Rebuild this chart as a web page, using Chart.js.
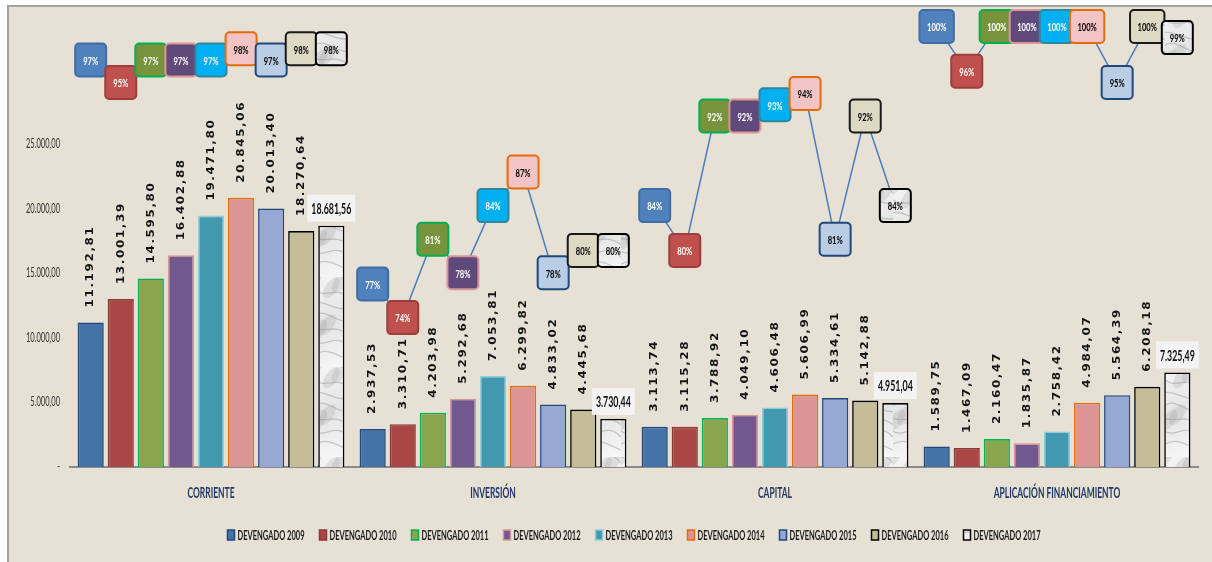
<!DOCTYPE html>
<html><head><meta charset="utf-8">
<script src="https://cdn.jsdelivr.net/npm/chart.js@4.4.1/dist/chart.umd.min.js"></script>
<style>
html,body{margin:0;padding:0;background:#ffffff;width:1212px;height:562px;overflow:hidden;}
#wrap{position:absolute;left:7px;top:5px;width:1205px;height:557px;box-sizing:border-box;border-left:2px solid #a3a3a3;border-top:2px solid #a3a3a3;background:#E6E0D5;}
canvas{display:block;}
</style></head><body>
<div id="wrap"><canvas id="c" width="1203" height="555"></canvas></div>
<script>
// ---- data ----
const categories = ['CORRIENTE', 'INVERSIÓN', 'CAPITAL', 'APLICACIÓN FINANCIAMIENTO'];
const seriesNames = ['DEVENGADO 2009','DEVENGADO 2010','DEVENGADO 2011','DEVENGADO 2012','DEVENGADO 2013','DEVENGADO 2014','DEVENGADO 2015','DEVENGADO 2016','DEVENGADO 2017'];
const dev2009 = [11192.81, 2937.53, 3113.74, 1589.75];
const dev2010 = [13001.39, 3310.71, 3115.28, 1467.09];
const dev2011 = [14595.80, 4203.98, 3788.92, 2160.47];
const dev2012 = [16402.88, 5292.68, 4049.10, 1835.87];
const dev2013 = [19471.80, 7053.81, 4606.48, 2758.42];
const dev2014 = [20845.06, 6299.82, 5606.99, 4984.07];
const dev2015 = [20013.40, 4833.02, 5334.61, 5564.39];
const dev2016 = [18270.64, 4445.68, 5142.88, 6208.18];
const dev2017 = [18681.56, 3730.44, 4951.04, 7325.49];
// execution percentages per category (2009..2017)
const pctCorriente  = [97, 95, 97, 97, 97, 98, 97, 98, 98];
const pctInversion  = [77, 74, 81, 78, 84, 87, 78, 80, 80];
const pctCapital    = [84, 80, 92, 92, 93, 94, 81, 92, 84];
const pctAplicacion = [100, 96, 100, 100, 100, 100, 95, 100, 99];
const yTickValues = [0, 5000, 10000, 15000, 20000, 25000];

// ---- styles ----
const FONT = "Lato, 'Open Sans', sans-serif";
const CAT_PCT = 0.96, BAR_PCT = 0.87;

function marble(w, h) {
  const c = document.createElement('canvas'); c.width = w; c.height = h;
  const g = c.getContext('2d');
  const grd = g.createLinearGradient(0, 0, w, h);
  grd.addColorStop(0, '#f5f5f5'); grd.addColorStop(0.5, '#e4e4e4'); grd.addColorStop(1, '#f8f8f8');
  g.fillStyle = grd; g.fillRect(0, 0, w, h);
  g.strokeStyle = 'rgba(120,120,120,0.35)'; g.lineWidth = 1.3;
  for (let k = 0; k < 7; k++) {
    const y0 = k * h / 7;
    g.beginPath(); g.moveTo(0, y0);
    g.bezierCurveTo(w * 0.3, y0 + 9 * Math.sin(k * 1.7), w * 0.6, y0 - 10 * Math.cos(k * 1.3), w, y0 + 6);
    g.stroke();
  }
  g.fillStyle = 'rgba(140,140,140,0.18)';
  for (let k = 0; k < 5; k++) { g.beginPath(); g.ellipse(w * ((k * 37) % 100) / 100, h * ((k * 53) % 100) / 100, 6, 12, 0.6, 0, Math.PI * 2); g.fill(); }
  return document.createElement('canvas').getContext('2d').createPattern(c, 'repeat');
}
const MARBLE = marble(34, 90);

const barFill   = ['#4572A7','#AA4643','#89A54E','#71588F','#4198AF','#DB9593','#95A9D4','#C4BD97', MARBLE];
const barBorder = ['#1F497D','#8C3836','#00B050','#D99694','#93CDDD','#E46C0A','#1F497D','#000000','#000000'];
const boxStyles = [
  {fill:'#4F81BD', border:'#3E6DA6', text:'#ffffff'},
  {fill:'#C0504D', border:'#9C3E3B', text:'#ffffff'},
  {fill:'#77933C', border:'#00B050', text:'#ffffff'},
  {fill:'#604A7B', border:'#D99694', text:'#ffffff'},
  {fill:'#00B0F0', border:'#31859C', text:'#ffffff'},
  {fill:'#F2C4C4', border:'#E46C0A', text:'#000000'},
  {fill:'#B9CDE5', border:'#1F497D', text:'#000000'},
  {fill:'#DDD9C3', border:'#1A1A1A', text:'#000000'},
  {fill:MARBLE,   border:'#000000', text:'#000000'}
];

// narrow-text styles (font, calibration string, width it should have)
const STY = {
  legend: {font: `bold 12.5px ${FONT}`, ref: 'DEVENGADO 2009', w: 67, color: '#1a1a1a'},
  ytick:  {font: `12.5px ${FONT}`, ref: '25.000,00', w: 34, color: '#333333'},
  xtick:  {font: `bold 15px ${FONT}`, ref: 'CORRIENTE', w: 47, color: '#1F3864'},
  pct:    {font: `bold 12px ${FONT}`, ref: '97%', w: 15},
  last:   {font: `bold 14.5px ${FONT}`, ref: '18.681,56', w: 40, color: '#111111'}
};
function ratioOf(ctx, s) {
  if (s.ratio) return s.ratio;
  ctx.save(); ctx.font = s.font; const m = ctx.measureText(s.ref).width; ctx.restore();
  s.ratio = s.w / m; return s.ratio;
}
function narrowText(ctx, s, txt, x, y, align, color) {
  const r = ratioOf(ctx, s);
  ctx.save(); ctx.font = s.font; ctx.textBaseline = 'middle'; ctx.textAlign = 'left';
  const w = ctx.measureText(txt).width * r;
  const x0 = align === 'center' ? x - w / 2 : align === 'right' ? x - w : x;
  ctx.translate(x0, y); ctx.scale(r, 1);
  ctx.fillStyle = color || s.color; ctx.fillText(txt, 0, 0); ctx.restore();
  return w;
}
function narrowWidth(ctx, s, txt) {
  const r = ratioOf(ctx, s);
  ctx.save(); ctx.font = s.font; const w = ctx.measureText(txt).width * r; ctx.restore(); return w;
}

function fmt(v) {
  const parts = v.toFixed(2).split('.');
  return parts[0].replace(/\B(?=(\d{3})+(?!\d))/g, '.') + ',' + parts[1];
}

const devSeries = [dev2009, dev2010, dev2011, dev2012, dev2013, dev2014, dev2015, dev2016, dev2017];
const pctGroups = [pctCorriente, pctInversion, pctCapital, pctAplicacion];
const slot = CAT_PCT / devSeries.length;

const datasets = devSeries.map((d, i) => ({
  type: 'bar', label: seriesNames[i], data: d,
  backgroundColor: barFill[i], borderColor: barBorder[i], borderWidth: 1.6,
  yAxisID: 'y', categoryPercentage: CAT_PCT, barPercentage: BAR_PCT, order: 1
}));
pctGroups.forEach((arr, g) => {
  datasets.push({
    type: 'line', label: 'pct_' + g, parsing: false, normalized: true,
    data: arr.map((v, i) => ({x: g + (i - (arr.length - 1) / 2) * slot, y: v})),
    borderColor: '#4A7EBB', borderWidth: 1.5, pointRadius: 0, tension: 0, fill: false,
    yAxisID: 'y2', order: 0
  });
});

const drawPlugin = {
  id: 'drawExtras',
  afterDraw(chart) {
    const ctx = chart.ctx, ca = chart.chartArea;
    // y ticks
    const ys = chart.scales.y;
    yTickValues.forEach(v => narrowText(ctx, STY.ytick, v === 0 ? '-' : fmt(v), ca.left - 10, ys.getPixelForValue(v), 'right'));
    // x category labels
    const xs = chart.scales.x;
    categories.forEach((c, i) => narrowText(ctx, STY.xtick, c, xs.getPixelForTick(i), ca.bottom + 26, 'center'));
    // legend
    const items = seriesNames.map(n => 7 + 3 + narrowWidth(ctx, STY.legend, n));
    const gap = 15;
    const total = items.reduce((a, b) => a + b, 0) + gap * (items.length - 1);
    let lx = (ca.left + ca.right) / 2 - total / 2;
    const ly = 528;
    seriesNames.forEach((n, i) => {
      ctx.save();
      ctx.fillStyle = barFill[i]; ctx.fillRect(lx, ly - 5, 7, 10);
      ctx.lineWidth = 1.5; ctx.strokeStyle = barBorder[i]; ctx.strokeRect(lx, ly - 5, 7, 10);
      ctx.restore();
      narrowText(ctx, STY.legend, n, lx + 10, ly + 0.5, 'left');
      lx += items[i] + gap;
    });
  },
  afterDatasetsDraw(chart) {
    const ctx = chart.ctx;
    chart.data.datasets.forEach((ds, di) => {
      if (ds.type !== 'bar') return;
      const meta = chart.getDatasetMeta(di);
      meta.data.forEach((bar, j) => {
        const txt = fmt(ds.data[j]);
        ctx.save();
        if (di < 8) {
          ctx.translate(bar.x, bar.y - 15);
          ctx.rotate(-Math.PI / 2);
          ctx.scale(1, 0.88);
          ctx.font = "bold 12px 'DejaVu Sans'";
          ctx.letterSpacing = '1.6px';
          ctx.textAlign = 'left'; ctx.textBaseline = 'middle';
          ctx.fillStyle = '#141414';
          ctx.fillText(txt, 0, 0);
          ctx.restore();
        } else {
          const w = narrowWidth(ctx, STY.last, txt) + 8, h = 27;
          ctx.fillStyle = '#F3F3F3';
          ctx.fillRect(bar.x - w / 2, bar.y - 4 - h, w, h);
          ctx.restore();
          narrowText(ctx, STY.last, txt, bar.x, bar.y - 4 - h / 2 + 1, 'center');
        }
      });
    });
    // percentage boxes on the line points
    chart.data.datasets.forEach((ds, di) => {
      if (ds.type !== 'line') return;
      const meta = chart.getDatasetMeta(di);
      meta.data.forEach((pt, j) => {
        const st = boxStyles[j];
        const txt = ds.data[j].y + '%';
        const w = Math.max(31, narrowWidth(ctx, STY.pct, txt) + 15), h = 33;
        ctx.save();
        ctx.beginPath();
        ctx.roundRect(pt.x - w / 2, pt.y - h / 2, w, h, 4);
        ctx.fillStyle = st.fill; ctx.fill();
        ctx.lineWidth = 2; ctx.strokeStyle = st.border; ctx.stroke();
        ctx.restore();
        narrowText(ctx, STY.pct, txt, pt.x, pt.y + 1, 'center', st.text);
      });
    });
  }
};

new Chart(document.getElementById('c'), {
  data: {labels: categories, datasets},
  plugins: [drawPlugin],
  options: {
    responsive: false, animation: false, indexAxis: 'x',
    layout: {padding: {top: 8, right: 14, bottom: 0, left: 0}},
    plugins: {
      tooltip: {enabled: false},
      title: {display: false},
      legend: {display: false}
    },
    scales: {
      x: {
        type: 'category', offset: true,
        grid: {display: false, drawTicks: false},
        border: {display: true, color: '#8c8c8c', width: 2},
        ticks: {display: false},
        afterFit: (s) => { s.height = 95; }
      },
      y: {
        type: 'linear', min: 0, max: 35000,
        grid: {display: false, drawTicks: false},
        border: {display: false},
        ticks: {display: false},
        afterFit: (s) => { s.width = 61; }
      },
      y2: {type: 'linear', display: false, position: 'right', min: 60.66, max: 101.02}
    }
  }
});
</script>
</body></html>
